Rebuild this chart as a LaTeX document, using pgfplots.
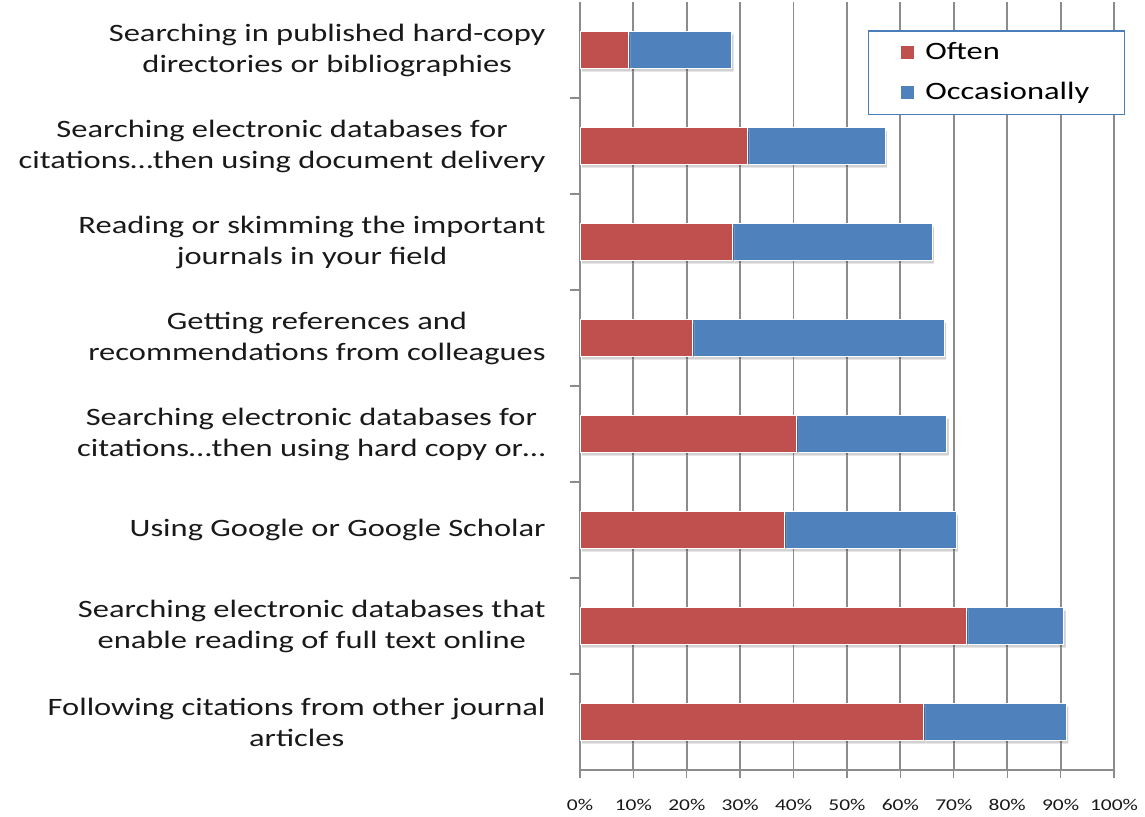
\documentclass[border=0pt]{standalone}
\usepackage{fontspec}
\setmainfont{Carlito}[FakeStretch=1.3]
\usepackage{pgfplots}
\pgfplotsset{compat=1.18}
\usetikzlibrary{shadows}
\definecolor{often}{HTML}{C0504D}
\definecolor{occas}{HTML}{4F81BD}
\definecolor{gridc}{HTML}{8C8C8C}
\definecolor{legb}{HTML}{4A7EBB}
\begin{document}
\begin{tikzpicture}
\useasboundingbox (-290pt,-23.5pt) rectangle (282.5pt,385pt);
\begin{axis}[
  at={(0pt,0pt)}, anchor=south west,
  scale only axis, width=267pt, height=384pt,
  xbar stacked, bar width=18.5pt,
  xmin=0, xmax=100, ymin=-0.5, ymax=7.5, y dir=reverse,
  axis x line*=bottom, axis y line*=left,
  axis line style={gridc, line width=0.7pt},
  xtick={0,10,...,100},
  xticklabels={0\%,10\%,20\%,30\%,40\%,50\%,60\%,70\%,80\%,90\%,100\%},
  x tick label style={font=\fontsize{8.25}{10}\selectfont, text=black!90, anchor=north, inner sep=0pt, yshift=-10.5pt},
  tick align=outside, major tick length=4pt, minor tick length=5pt,
  tick style={gridc, line width=0.7pt},
  xmajorgrids, grid style={gridc, line width=0.9pt},
  ytick={0,...,7},
  yticklabels={{Searching in published hard-copy\\directories or bibliographies},
    {Searching electronic databases for\\citations…then using document delivery},
    {Reading or skimming the important\\journals in your field},
    {Getting references and\\recommendations from colleagues},
    {Searching electronic databases for\\citations…then using hard copy or…},
    {Using Google or Google Scholar},
    {Searching electronic databases that\\enable reading of full text online},
    {Following citations from other journal\\articles}},
  y tick label style={font=\fontsize{12.5}{15.5}\selectfont, text=black!90, align=center, anchor=east, inner sep=0pt, xshift=-13pt},
  ytick style={draw=none},
  minor ytick={0.5,1.5,2.5,3.5,4.5,5.5,6.5},
  minor y tick style={draw=gridc, line width=0.7pt},
  legend image code/.code={\fill[#1, draw=none] (0pt,-3.25pt) rectangle (6.5pt,3.25pt); \path (10.5pt,0pt);},
  legend style={at={(axis description cs:0.539,0.9635)}, anchor=north west,
    draw=legb, line width=0.8pt, fill=white,
    font=\fontsize{12.5}{15.5}\selectfont,
    inner xsep=16pt, inner ysep=4.5pt, row sep=6.5pt,
    nodes={inner sep=1.5pt}},
  legend cell align=left,
]
\addlegendimage{fill=often}
\addlegendentry{Often}
\addlegendimage{fill=occas}
\addlegendentry{Occasionally}
\addplot[fill=often, draw=white, line width=0.4pt,
  drop shadow={shadow xshift=1pt, shadow yshift=-1.5pt, fill=black, opacity=0.18}]
  coordinates {(9,0) (31.3,1) (28.5,2) (21.0,3) (40.6,4) (38.3,5) (72.3,6) (64.3,7)};
\addplot[fill=occas, draw=white, line width=0.4pt,
  drop shadow={shadow xshift=1pt, shadow yshift=-1.5pt, fill=black, opacity=0.18}]
  coordinates {(19.4,0) (25.8,1) (37.4,2) (47.2,3) (28.1,4) (32.1,5) (18.3,6) (26.8,7)};
\end{axis}
\end{tikzpicture}
\end{document}
